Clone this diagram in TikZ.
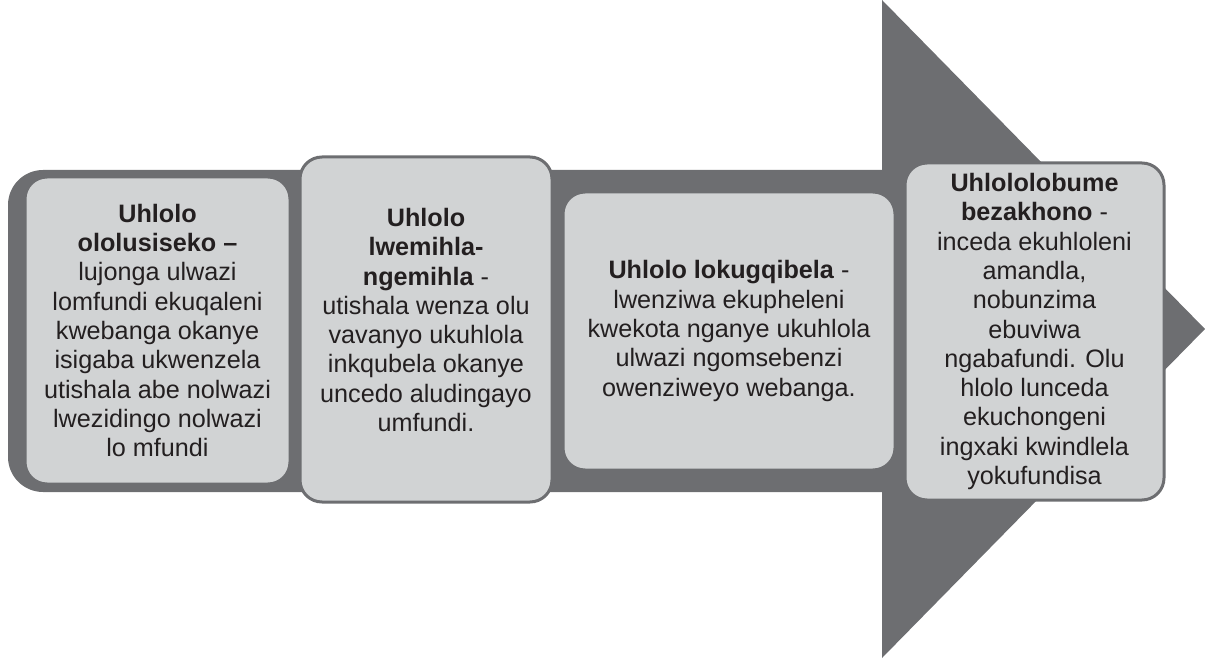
\documentclass[tikz,border=0pt]{standalone}
\usepackage{fontspec}
\setmainfont{Liberation Sans}
\usetikzlibrary{positioning}
\definecolor{arrowgray}{HTML}{6D6E71}
\definecolor{boxgray}{HTML}{D1D3D4}
\definecolor{inkgray}{HTML}{231F20}

\begin{document}
\begin{tikzpicture}[x=1pt,y=-1pt,
  stage/.style={draw=arrowgray,fill=boxgray,line width=3pt,rounded corners=22pt,
    align=center,inner sep=0pt,text=inkgray,
    font=\fontsize{25.2}{29.3}\selectfont}]

\useasboundingbox (0,0) rectangle (1205,660);

% arrow body and head
\fill[arrowgray,rounded corners=35pt] (8,170) rectangle (930,492);
\fill[arrowgray] (882,0) -- (1205,329) -- (882,658) -- cycle;

% stages
\node[stage,minimum width=265pt,minimum height=307pt] (base) at (157.5,330.5)
  {\textbf{Uhlolo}\\ \textbf{ololusiseko --}\\ lujonga ulwazi\\ lomfundi ekuqaleni\\
   kwebanga okanye\\ isigaba ukwenzela\\ utishala abe nolwazi\\ lwezidingo nolwazi\\ lo mfundi};

\node[stage,minimum width=252pt,minimum height=345pt] (daily) at (426,329.5)
  {\textbf{Uhlolo}\\ \textbf{lwemihla-}\\ \textbf{ngemihla} -\\ utishala wenza olu\\
   vavanyo ukuhlola\\ inkqubela okanye\\ uncedo aludingayo\\ umfundi.\\[-10pt]\mbox{}};

\node[stage,minimum width=332pt,minimum height=278pt] (final) at (729,331)
  {\textbf{Uhlolo lokugqibela} -\\ lwenziwa ekupheleni\\ kwekota nganye ukuhlola\\
   ulwazi ngomsebenzi\\ owenziweyo webanga.};

\node[stage,minimum width=259pt,minimum height=337pt] (diag) at (1034.5,331.5)
  {\textbf{Uhlololobume}\\ \textbf{bezakhono} -\\ inceda ekuhloleni\\ amandla,\\ nobunzima\\
   ebuviwa\\ ngabafundi. Olu\\ hlolo lunceda\\ ekuchongeni\\ ingxaki kwindlela\\ yokufundisa};

\end{tikzpicture}
\end{document}
